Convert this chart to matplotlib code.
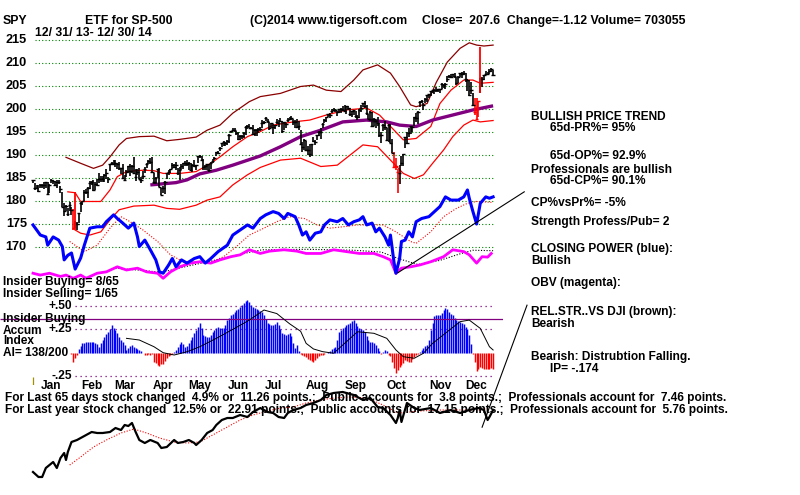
import matplotlib
matplotlib.use('Agg')
import matplotlib.pyplot as plt

plt.rcParams['font.family'] = ['Liberation Sans', 'DejaVu Sans']

# ---------------- data (day index 0 = 12/31/13 ... 251 = 12/30/14) ----------------
close = [184.69,
 182.92,182.89,182.36,183.48,183.52,183.64,184.14,181.69,183.67,184.66,184.42,183.64,184.18,184.30,182.79,178.89,178.01,179.07,177.35,179.23,178.18,
 174.17,175.39,175.17,177.48,179.68,180.01,181.98,182.07,183.01,184.02,184.24,182.51,183.89,183.55,184.91,184.84,184.85,185.82,186.29,
 184.98,188.18,188.26,188.16,188.32,188.06,187.23,187.28,185.18,184.66,186.33,187.66,186.66,187.75,186.20,185.43,186.31,184.97,184.58,185.49,187.01,
 188.25,188.88,188.63,186.40,184.34,185.10,187.09,183.16,181.51,182.94,184.20,186.13,186.39,187.04,187.89,187.45,187.83,186.29,186.88,187.75,188.31,
 188.33,188.06,188.42,186.78,187.88,187.68,187.96,189.79,189.96,189.06,187.40,187.66,188.05,186.80,188.32,188.74,189.55,190.75,190.57,191.57,192.68,
 192.90,192.80,193.19,194.45,195.38,195.58,195.60,194.92,193.54,194.13,194.29,194.83,196.26,196.48,195.94,195.88,194.70,195.58,195.44,195.82,195.72,
 197.03,197.23,198.20,197.51,195.95,196.98,196.21,196.55,197.32,196.96,197.51,195.23,197.21,196.78,197.69,198.04,198.10,197.20,197.18,196.30,196.44,192.50,
 191.78,193.40,191.19,191.17,190.29,192.39,193.09,192.93,194.37,195.21,195.21,196.90,197.80,198.36,198.92,198.72,199.67,199.82,199.84,199.53,200.15,
 200.04,199.93,199.77,200.75,200.23,198.94,199.63,199.81,198.62,198.46,199.98,200.31,201.32,200.70,199.15,197.86,199.42,196.35,197.96,197.54,197.02,
 194.35,194.38,196.52,196.29,193.26,196.64,192.74,190.54,187.41,187.70,186.43,186.27,188.47,190.30,194.07,192.69,194.93,196.43,196.16,198.41,198.11,199.38,201.66,
 201.77,201.07,202.34,203.15,203.34,203.98,204.18,204.19,204.24,204.37,204.46,205.55,205.22,205.58,206.68,207.26,207.11,207.64,207.20,
 205.76,207.09,207.89,207.66,208.00,206.61,206.47,203.16,204.19,200.89,199.51,197.91,201.79,206.78,206.52,207.47,207.75,207.77,208.44,208.72,207.60]

high = [184.69,
 184.07,183.60,183.56,183.79,183.83,184.13,184.22,184.18,183.78,184.94,184.68,184.50,184.77,184.66,183.40,181.99,179.62,179.27,178.61,179.91,178.79,
 178.39,175.83,175.56,177.48,179.87,180.07,182.44,182.76,183.23,184.37,184.48,184.61,184.29,184.89,186.15,185.45,185.60,185.88,187.16,
 185.29,188.24,188.57,188.93,188.91,188.38,188.62,187.37,188.12,185.67,186.79,187.73,188.10,188.01,189.70,187.01,187.11,187.34,185.26,186.64,187.52,
 188.38,189.00,189.40,189.70,186.18,185.42,187.15,187.28,183.02,183.45,184.49,186.19,186.85,187.08,188.28,188.04,188.48,187.29,187.56,188.04,188.38,
 188.76,189.03,188.53,188.42,188.07,189.08,188.02,189.82,190.07,189.88,189.20,187.90,188.18,188.06,188.48,189.16,189.70,190.86,190.97,191.77,192.80,
 193.05,192.93,193.42,194.63,195.43,196.02,195.96,195.34,195.15,194.46,194.51,195.17,196.35,196.66,196.74,196.13,196.70,195.67,195.78,195.89,196.15,
 197.67,197.43,198.29,197.91,197.22,197.06,196.75,196.71,197.85,197.72,198.10,197.51,197.34,197.11,198.16,198.26,198.55,197.85,197.70,197.83,197.47,195.55,
 192.88,193.63,193.18,192.10,192.43,192.50,193.92,193.43,194.50,195.28,196.06,197.09,197.83,198.39,199.08,199.16,200.04,200.32,200.13,199.62,200.15,
 200.24,200.85,201.03,200.83,200.72,200.29,199.73,199.88,199.63,198.90,200.19,201.07,201.36,201.90,200.94,198.99,199.60,199.48,198.10,197.71,198.33,
 197.02,195.01,196.76,197.45,195.96,196.77,196.80,193.59,190.73,189.54,187.08,187.94,189.85,190.37,194.10,195.02,195.88,196.43,196.34,198.41,199.21,199.72,201.78,
 202.07,201.44,202.53,203.17,203.45,204.06,204.22,204.35,204.83,204.50,204.56,205.80,205.54,205.67,207.35,207.39,207.70,207.66,208.03,
 207.08,207.33,207.99,208.14,208.47,207.93,206.66,206.34,205.94,203.55,202.40,202.40,201.85,206.78,206.97,207.47,208.42,208.19,208.84,208.97,208.53]

low = [183.93,
 182.48,182.63,181.99,182.95,182.89,182.80,183.01,181.34,181.92,183.95,183.88,183.26,182.98,183.83,181.81,178.83,176.85,177.97,176.93,177.91,176.99,
 173.73,174.24,173.71,175.23,177.70,179.21,180.04,181.66,180.69,182.66,183.65,182.29,182.52,183.43,184.05,184.32,184.29,184.31,184.83,
 183.93,186.62,187.96,188.00,187.60,187.14,186.80,185.95,184.79,184.61,185.29,186.29,185.63,186.30,186.09,184.55,185.70,184.95,183.94,184.95,186.21,
 187.29,188.22,188.09,186.12,183.84,183.79,185.16,183.06,181.31,181.84,181.73,184.84,185.79,186.17,187.09,187.36,186.83,185.79,184.77,186.89,187.04,
 187.62,187.82,186.80,186.76,186.41,187.39,186.95,188.37,189.51,188.91,186.84,186.87,186.80,186.35,187.09,188.38,188.91,189.92,190.45,190.89,191.78,
 191.97,192.12,192.20,192.71,194.81,195.28,195.13,194.50,193.32,193.39,193.55,193.89,194.49,195.86,195.90,195.67,194.43,194.32,194.34,194.95,195.34,
 195.91,196.90,197.40,197.17,195.55,196.04,194.61,195.83,196.86,196.28,197.25,194.80,195.53,195.90,197.22,197.69,197.70,196.68,195.95,196.25,195.61,192.40,
 190.78,191.30,190.89,190.05,189.68,189.86,192.85,192.37,193.46,194.26,193.49,195.96,197.05,197.25,198.32,198.06,199.26,199.72,199.47,198.67,199.29,
 199.34,199.69,199.38,199.06,199.84,198.64,198.34,198.76,198.25,197.80,198.07,199.42,200.59,200.29,198.81,197.86,197.54,196.31,196.45,195.99,196.48,
 193.94,192.63,195.41,195.62,193.21,192.86,192.64,190.47,187.38,186.94,181.92,183.82,187.69,187.75,191.65,192.62,194.02,194.67,195.02,196.49,197.22,196.92,200.55,
 201.33,199.92,201.47,201.57,202.54,202.95,203.60,203.46,203.80,203.90,203.66,204.52,204.61,204.51,205.99,206.74,206.81,207.07,206.93,
 205.43,205.79,206.96,206.78,207.59,205.88,203.91,202.98,203.38,200.84,198.86,197.86,198.28,203.52,204.88,206.42,207.43,207.53,207.82,208.07,207.24]

red_bar_days = [22, 197, 198, 199, 241, 242, 243]
signal_days = [23, 244]
signal_low = [173.8, 203.5]
signal_high = [182.1, 213.6]

upper_band_days = [18,26,33,38,42,47,51,58,66,73,80,89,95,102,109,118,124,135,146,153,160,168,175,180,188,195,200,206,209,215,220,226,233,238,242,246,251]
upper_band = [189.6,188.3,187.2,187.9,189.7,192.3,193.7,194.1,194.2,193.2,193.5,194.0,195.5,196.6,199.2,201.7,202.8,203.5,205.0,205.3,204.2,203.9,206.4,208.6,209.7,207.9,205.0,201.0,200.6,201.3,205.9,210.3,213.3,214.5,214.0,213.8,214.0]

inner_band_days = [19,23,26,29,37,42,46,51,60,66,71,80,89,97,102,109,117,124,131,142,151,160,171,182,189,197,202,209,217,222,228,235,240,244,251]
inner_band = [182.1,181.9,180.0,180.0,180.0,182.5,185.4,186.5,186.8,186.7,186.1,186.1,186.5,188.3,189.7,191.9,194.1,195.2,196.6,197.3,197.7,198.8,199.9,200.3,198.8,195.5,193.4,193.7,196.3,201.3,204.2,206.4,206.4,205.7,205.9]

lower_band_days = [23,26,31,37,42,47,55,66,73,80,89,95,102,109,117,124,135,146,157,166,173,180,188,195,202,208,213,218,224,229,235,240,244,251]
lower_band = [173.8,173.1,172.7,173.4,176.0,178.2,179.0,179.2,178.5,178.3,179.2,180.3,181.0,183.6,185.8,187.4,189.0,189.4,187.6,187.9,190.1,192.3,191.9,189.0,186.1,185.0,185.8,188.3,191.2,194.1,196.6,197.7,197.3,197.6]

ma65_days = [64,78,84,91,100,109,124,135,146,157,169,182,193,200,209,218,229,240,251]
ma65 = [183.6,184.1,184.7,186.0,186.8,187.9,189.9,191.9,194.1,195.5,197.3,197.7,197.3,196.6,196.3,197.7,198.8,199.9,200.8]

# Closing Power (blue), drawn on the price scale
cp_days = [0,4,7,8,11,14,16,17,19,21,23,26,28,31,35,38,40,44,46,49,52,55,57,58,61,64,67,69,71,74,76,78,81,84,88,91,94,97,101,106,109,113,117,120,124,127,131,134,137,139,143,145,147,149,151,154,157,159,162,166,169,172,175,178,180,182,185,187,189,192,194,195,197,198,200,201,203,205,207,209,212,216,219,222,225,228,232,235,237,238,240,242,244,247,249,251]
cp = [174.9,172.7,172.3,170.5,172.3,171.6,170.2,167.3,168.3,168.8,165.3,167.7,170.5,174.2,174.5,174.5,175.6,177.1,176.3,175.3,174.2,175.3,172.3,170.2,171.6,169.5,167.3,164.7,164.4,166.2,167.6,165.8,167.3,166.6,167.6,168.0,166.6,167.6,169.1,170.5,172.7,173.8,174.9,174.2,176.3,177.1,177.8,177.4,176.3,177.4,176.7,174.9,172.7,173.4,171.6,173.1,173.4,174.9,176.0,175.6,176.3,174.9,175.6,176.0,176.7,174.9,175.3,173.4,174.2,172.3,170.5,172.7,166.6,164.4,167.6,171.3,171.6,173.4,172.3,175.6,176.3,176.7,177.8,178.9,181.0,180.3,180.3,181.0,182.5,180.7,177.8,175.1,179.6,181.0,180.7,181.0]
cp_ma_days = [20,28,35,42,48,53,60,68,75,82,89,97,104,111,118,126,133,140,148,155,162,169,177,184,191,198,206,209,217,224,231,237,242,251]
cp_ma = [171.3,169.1,170.5,174.2,176.7,175.6,173.8,171.3,168.4,166.9,166.8,166.8,168.0,170.2,172.7,174.2,175.6,176.7,176.3,174.9,174.2,174.5,174.9,174.9,174.9,173.4,171.3,170.9,173.4,176.7,178.5,179.6,180.0,179.8]

# OBV (magenta) and its average (black dotted), drawn on the price scale
obv_days = [0,4,9,15,18,22,26,29,35,40,46,51,57,62,68,71,75,80,86,91,97,102,108,113,118,124,129,137,144,149,157,164,171,178,186,191,195,198,201,206,211,217,224,229,235,238,242,245,248,250]
obv = [164.4,164.0,164.4,163.7,164.0,163.3,164.0,163.3,164.4,164.7,165.8,165.1,165.5,164.7,164.4,163.3,164.7,165.8,166.6,166.9,166.6,167.3,168.0,168.4,169.5,168.7,169.2,169.5,169.2,168.7,168.7,169.5,169.1,168.7,168.7,168.0,167.3,164.4,165.5,165.8,166.2,166.9,168.0,169.5,169.1,168.4,166.6,168.0,167.9,168.7]
obv_ma_days = [45,60,70,85,100,115,125,150,175,190,200,210,222,232,240,251]
obv_ma = [165.5,165.0,164.6,166.0,167.3,168.7,169.5,169.6,169.4,169.0,167.5,166.3,167.2,168.5,169.4,169.3]

# CP trend line annotation (price scale)
trend_days = [199, 268]
trend_vals = [164.5, 182.1]

# Accumulation Index (daily, from day 21)
ai_start = 21
ai = [-0.01,-0.10,-0.06,-0.03,0.04,0.07,0.10,0.10,0.11,0.12,
 0.12,0.11,0.11,0.10,0.09,0.06,0.10,0.14,0.17,0.20,
 0.22,0.25,0.30,0.27,0.24,0.21,0.17,0.14,0.12,0.08,
 0.03,0.05,0.07,0.08,0.06,0.05,0.04,0.03,0.02,0.00,
 -0.03,-0.02,-0.01,-0.02,-0.01,-0.10,-0.11,-0.13,-0.14,-0.12,
 -0.12,-0.09,-0.06,-0.04,-0.03,-0.01,0.01,0.03,0.06,0.09,
 0.12,0.09,0.06,0.07,0.10,0.14,0.17,0.21,0.24,0.28,
 0.32,0.26,0.19,0.18,0.17,0.17,0.19,0.22,0.24,0.26,
 0.28,0.27,0.26,0.26,0.30,0.35,0.37,0.40,0.42,0.44,
 0.46,0.47,0.49,0.51,0.53,0.55,0.57,0.54,0.51,0.49,
 0.48,0.47,0.46,0.45,0.44,0.40,0.36,0.32,0.31,0.30,
 0.30,0.31,0.33,0.30,0.25,0.21,0.20,0.19,0.20,0.21,
 0.18,0.10,0.05,0.08,0.02,-0.01,-0.03,-0.04,-0.05,-0.07,
 -0.08,-0.09,-0.10,-0.08,-0.06,-0.04,-0.03,-0.02,-0.01,0.00,
 0.01,0.02,0.04,0.05,0.06,0.14,0.22,0.24,0.26,0.28,
 0.30,0.31,0.32,0.34,0.35,0.32,0.29,0.26,0.25,0.24,
 0.22,0.18,0.14,0.12,0.11,0.10,0.08,0.05,0.02,-0.01,
 0.01,0.03,0.02,-0.02,-0.04,-0.10,-0.16,-0.22,-0.19,-0.15,
 -0.13,-0.11,-0.08,-0.09,-0.10,-0.10,-0.07,-0.05,-0.03,-0.01,
 0.01,0.03,0.05,0.07,0.08,0.14,0.24,0.32,0.39,0.40,
 0.40,0.40,0.43,0.46,0.48,0.47,0.44,0.42,0.40,0.37,
 0.35,0.34,0.33,0.32,0.31,0.28,0.25,0.19,0.09,-0.01,
 -0.10,-0.20,-0.18,-0.15,-0.16,-0.17,-0.17,-0.18,-0.17,-0.16,-0.17]
ai_ma_days = [51,58,66,71,77,84,91,100,109,118,126,133,140,146,149,153,158,164,170,177,186,193,198,202,208,213,218,226,233,238,244,249,251]
ai_ma = [0.154,0.136,0.064,0.0,-0.025,0.01,0.064,0.154,0.25,0.35,0.458,0.42,0.31,0.23,0.10,0.04,0.011,-0.006,0.10,0.225,0.208,0.154,0.029,-0.043,-0.06,-0.006,0.10,0.225,0.333,0.35,0.261,0.064,0.029]
insider_level = 0.36
ai_levels = [0.50, 0.25, -0.25]
ai_level_labels = ['+.50', '+.25', '-.25']
pointer_days = [269.5, 245.0]
pointer_vals = [0.51, -0.80]

# Relative strength vs DJI (bottom)
rs_days = [0,3,5,7,9,11,13,15,17,18,19,21,24,27,29,32,35,38,42,45,48,50,52,54,56,58,61,64,68,70,73,77,79,82,85,88,89,92,95,98,100,103,106,109,113,117,120,124,128,131,134,137,139,142,146,149,153,157,160,164,169,175,180,184,188,191,195,198,199,200,201,204,208,211,217,222,228,233,238,243,246,248,249,251]
rs = [0.983,0.978,0.978,0.987,0.990,0.993,0.987,0.997,1.002,0.995,1.003,1.013,1.015,1.018,1.020,1.023,1.022,1.022,1.023,1.027,1.025,1.030,1.029,1.032,1.023,1.015,1.012,1.015,1.012,1.007,1.008,1.015,1.012,1.013,1.015,1.012,1.010,1.015,1.022,1.025,1.030,1.035,1.037,1.037,1.040,1.038,1.043,1.047,1.043,1.042,1.038,1.037,1.042,1.045,1.047,1.050,1.052,1.055,1.060,1.062,1.063,1.060,1.055,1.057,1.048,1.047,1.040,1.032,1.037,1.045,1.033,1.052,1.047,1.045,1.047,1.042,1.045,1.042,1.045,1.047,1.045,1.035,1.038,1.045]
rs_ma_days = [20,26,33,40,48,55,62,69,77,84,91,98,106,113,120,128,135,142,149,157,164,173,182,191,198,200,211,222,233,244,249]
rs_ma = [0.990,0.998,1.008,1.015,1.022,1.026,1.022,1.017,1.013,1.012,1.013,1.020,1.028,1.035,1.040,1.044,1.047,1.048,1.052,1.055,1.057,1.058,1.057,1.050,1.043,1.042,1.044,1.045,1.045,1.045,1.047]

price_grid = [215, 210, 205, 200, 195, 190, 185, 180, 175, 170]
months = ['Jan', 'Feb', 'Mar', 'Apr', 'May', 'Jun', 'Jul', 'Aug', 'Sep', 'Oct', 'Nov', 'Dec']
month_label_days = [10, 32, 50, 71, 91, 112, 131, 155, 176, 198, 222, 242]

# ---------------- figure ----------------
W, H = 800, 495
fig = plt.figure(figsize=(W / 100, H / 100), dpi=100)
fig.patch.set_facecolor('white')

def fx(x):
    return x / W

def fy(y):
    return 1 - y / H

def add_ax(x0, y0, x1, y1, xlim, ylim):
    ax = fig.add_axes([fx(x0), fy(y1), (x1 - x0) / W, (y1 - y0) / H])
    ax.set_axis_off()
    ax.set_xlim(*xlim)
    ax.set_ylim(*ylim)
    return ax

XL = (-18.0, 256.4)
FS = 8.55
TXT = dict(fontsize=FS, fontweight='bold', color='black', va='center', ha='left')

def ftext(x, y, s, **kw):
    d = dict(TXT)
    d.update(kw)
    fig.text(fx(x), fy(y), s, **d)

# ---- price panel ----
axp = add_ax(0, 30, 503, 280, XL, (162.93, 217.28))
axp.hlines(price_grid, 1, 252, colors='#008000', linestyles=(0, (1, 2)), linewidth=0.8)
for v in price_grid:
    axp.text(-3.4, v, str(v), ha='right', va='center', fontsize=9.2, fontweight='bold')

n = len(close)
days = list(range(n))
bar_col = ['red' if d in red_bar_days else 'black' for d in days]
axp.vlines(days, low, high, colors=bar_col, linewidth=1.2, zorder=4)
axp.hlines(close, [d - 0.9 for d in days], [d + 0.9 for d in days], colors=bar_col, linewidth=1.0, zorder=4)
axp.vlines(signal_days, signal_low, signal_high, colors='red', linewidth=1.3, zorder=4)

axp.plot(upper_band_days, upper_band, color='#8b0000', lw=0.9, zorder=3)
axp.plot(inner_band_days, inner_band, color='#ff0000', lw=0.9, zorder=3)
axp.plot(lower_band_days, lower_band, color='#ff0000', lw=0.9, zorder=3)
axp.plot(ma65_days, ma65, color='#800080', lw=2.4, zorder=3.5, solid_capstyle='butt')

axp.plot(cp_ma_days, cp_ma, color='#ff0000', lw=0.8, ls=(0, (1, 1.5)), zorder=3)
axp.plot(obv_ma_days, obv_ma, color='black', lw=0.8, ls=(0, (1, 1.5)), zorder=3)
axp.plot(obv_days, obv, color='#ff00ff', lw=2.0, zorder=3.6)
axp.plot(cp_days, cp, color='#0000ff', lw=2.2, zorder=3.7)
axp.plot(trend_days, trend_vals, color='black', lw=0.8, zorder=5, clip_on=False)

# ---- accumulation index panel ----
axa = add_ax(0, 290, 503, 385, XL, (-0.347, 0.673))
ai_days = [ai_start + k for k in range(len(ai))]
ai_col = ['#0000ff' if v >= 0 else '#ff0000' for v in ai]
axa.vlines(ai_days, 0, ai, colors=ai_col, linewidth=1.05, zorder=2)
axa.hlines(ai_levels, 23, 251, colors='#800080', linestyles=(0, (1, 3)), linewidth=0.9, zorder=1)
axa.hlines([insider_level], XL[0], XL[1], colors='#800080', linewidth=0.9, zorder=3)
axa.plot(ai_ma_days, ai_ma, color='black', lw=0.7, zorder=4)
axa.vlines([0], -0.40, -0.26, colors='#a09000', linewidth=0.9)
for v, s in zip(ai_levels, ai_level_labels):
    axa.text(21.3, v, s, ha='right', va='center', fontsize=FS, fontweight='bold')
for d, m in zip(month_label_days, months):
    axa.text(d, -0.355, m, ha='center', va='center', fontsize=8.6, fontweight='bold', clip_on=False)
axa.plot(pointer_days, pointer_vals, color='black', lw=0.8, clip_on=False)

# ---- relative strength panel ----
axr = add_ax(0, 385, 503, 480, XL, (0.975, 1.070))
axr.plot(rs_ma_days, rs_ma, color='#ff0000', lw=0.8, ls=(0, (1, 1.5)))
axr.plot(rs_days, rs, color='black', lw=1.6)

# ---------------- texts ----------------
ftext(3, 21, 'SPY', fontsize=8.8)
ftext(85, 21, 'ETF for SP-500', fontsize=8.8)
ftext(250, 21, '(C)2014 www.tigersoft.com', fontsize=8.8)
ftext(422, 21, 'Close=  207.6  Change=-1.12 Volume= 703055', fontsize=8.8)
ftext(35, 33, '12/ 31/ 13- 12/ 30/ 14', fontsize=8.8)

ftext(531, 117, 'BULLISH PRICE TREND')
ftext(550, 128, '65d-PR%= 95%')
ftext(550, 156, '65d-OP%= 92.9%')
ftext(531, 170, 'Professionals are bullish')
ftext(550, 181, '65d-CP%= 90.1%')
ftext(531, 203, 'CP%vsPr%= -5%')
ftext(531, 222, 'Strength Profess/Pub= 2')
ftext(531, 249, 'CLOSING POWER (blue):')
ftext(531, 261, 'Bullish')
ftext(531, 283, 'OBV (magenta):')
ftext(531, 312, 'REL.STR..VS DJI (brown):')
ftext(531, 324, 'Bearish')
ftext(531, 357, 'Bearish: Distrubtion Falling.')
ftext(550, 369, 'IP= -.174')

ftext(3, 282, 'Insider Buying= 8/65')
ftext(3, 294, 'Insider Selling= 1/65')
ftext(3, 319, 'Insider Buying')
ftext(3, 330.5, 'Accum')
ftext(3, 341.5, 'Index')
ftext(3, 353, 'AI= 138/200')

ftext(5, 397.5, 'For Last 65 days stock changed  4.9% or  11.26 points.;  Public accounts for  3.8 points.;  Professionals account for  7.46 points.', zorder=10)
ftext(5, 409.5, 'For Last year stock changed  12.5% or  22.91 points.;  Public accounts for  17.15 points.;  Professionals account for  5.76 points.', zorder=10)

fig.savefig('out.png', dpi=100, facecolor='white')
